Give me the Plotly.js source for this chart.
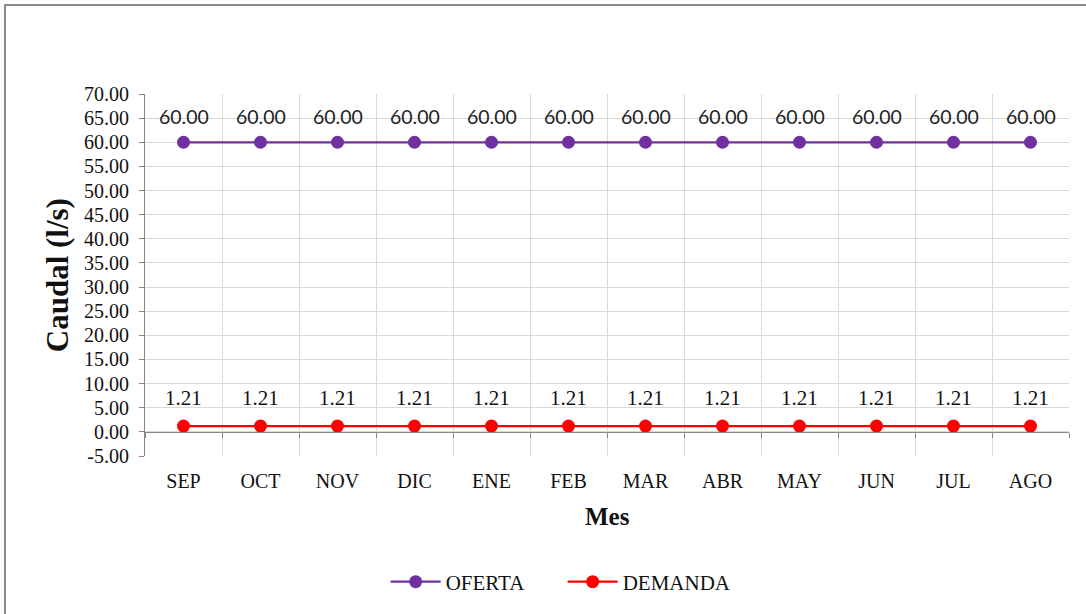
<!DOCTYPE html>
<html>
<head>
<meta charset="utf-8">
<script src="https://cdn.plot.ly/plotly-3.0.1.min.js"></script>
<style>html,body{margin:0;padding:0;background:#fff;}#chart{width:1086px;height:614px;}</style>
</head>
<body>
<div id="chart"></div>
<script>
const months = ["SEP","OCT","NOV","DIC","ENE","FEB","MAR","ABR","MAY","JUN","JUL","AGO"];
const oferta = [60,60,60,60,60,60,60,60,60,60,60,60];
const demanda = [1.21,1.21,1.21,1.21,1.21,1.21,1.21,1.21,1.21,1.21,1.21,1.21];
const yTicks = [-5,0,5,10,15,20,25,30,35,40,45,50,55,60,65,70];

const purple = "#7030A0";
const red = "#FF0000";
const serif = "Liberation Serif, Times New Roman, serif";
const sans = "Lato, Carlito, Calibri, sans-serif";

const traces = [
  {x: months, y: oferta, name: "OFERTA", type: "scatter", mode: "lines+markers",
   line: {color: purple, width: 2.25}, marker: {color: purple, size: 13}, xaxis: "x", yaxis: "y"},
  {x: months, y: demanda, name: "DEMANDA", type: "scatter", mode: "lines+markers",
   line: {color: red, width: 2.25}, marker: {color: red, size: 13}, xaxis: "x", yaxis: "y"},
  {x: months, y: demanda, type: "scatter", mode: "none", showlegend: false, hoverinfo: "skip", xaxis: "x2", yaxis: "y"}
];

const annotations = [];
months.forEach((m, i) => {
  annotations.push({x: m, y: oferta[i], xref: "x", yref: "y", text: oferta[i].toFixed(2),
    showarrow: false, yshift: 26, font: {family: sans, size: 19.5, color: "#222"}});
  annotations.push({x: m, y: demanda[i], xref: "x", yref: "y", text: demanda[i].toFixed(2),
    showarrow: false, yshift: 28, font: {family: serif, size: 21, color: "#111"}});
});
annotations.push({text: "Caudal (l/s)", xref: "paper", yref: "paper", x: -0.095, y: 0.5,
  xanchor: "center", yanchor: "middle", textangle: -90, showarrow: false,
  font: {family: serif, size: 31, color: "#111", weight: "bold"}});
annotations.push({text: "Mes", xref: "paper", yref: "paper", x: 0.5, y: -0.168,
  xanchor: "center", yanchor: "middle", showarrow: false,
  font: {family: serif, size: 25, color: "#111", weight: "bold"}});

const layout = {
  width: 1086, height: 614,
  margin: {l: 145, r: 17, t: 94, b: 158},
  paper_bgcolor: "#fff", plot_bgcolor: "#fff",
  showlegend: true,
  legend: {orientation: "h", x: 0.452, xanchor: "center", y: -0.348, yanchor: "middle",
    font: {family: serif, size: 21, color: "#111"}, itemwidth: 50, entrywidth: 112},
  xaxis: {type: "category", range: [-0.5, 11.5], tickson: "boundaries", showgrid: true, gridcolor: "#d9d9d9", gridwidth: 1,
    showline: false, ticks: "", ticklabelstandoff: 11,
    tickfont: {family: serif, size: 20, color: "#111"}, zeroline: false, fixedrange: true},
  xaxis2: {type: "category", range: [-0.5, 11.5], overlaying: "x", anchor: "free", position: 5/75, side: "bottom",
    showgrid: false, showline: true, linecolor: "#868686", linewidth: 1,
    ticks: "outside", tickson: "boundaries", ticklen: 5, tickcolor: "#868686", showticklabels: false},
  yaxis: {range: [-5, 70], tickvals: yTicks, ticktext: yTicks.map(v => v.toFixed(2)),
    showgrid: true, gridcolor: "#d9d9d9", gridwidth: 1, zeroline: false,
    showline: true, linecolor: "#868686", linewidth: 1, ticks: "outside", ticklen: 5, tickcolor: "#868686",
    ticklabelstandoff: 6,
    tickfont: {family: serif, size: 20, color: "#111"}, fixedrange: true},
  shapes: [
    {type: "rect", xref: "paper", yref: "paper", x0: (5 - 145) / 924, x1: 1.2, y0: -0.6, y1: (456 - 5) / 362,
     line: {color: "#8c8c8c", width: 2}, fillcolor: "rgba(0,0,0,0)", layer: "below"}
  ],
  annotations: annotations
};

Plotly.newPlot("chart", traces, layout, {displayModeBar: false, staticPlot: true});
</script>
</body>
</html>
